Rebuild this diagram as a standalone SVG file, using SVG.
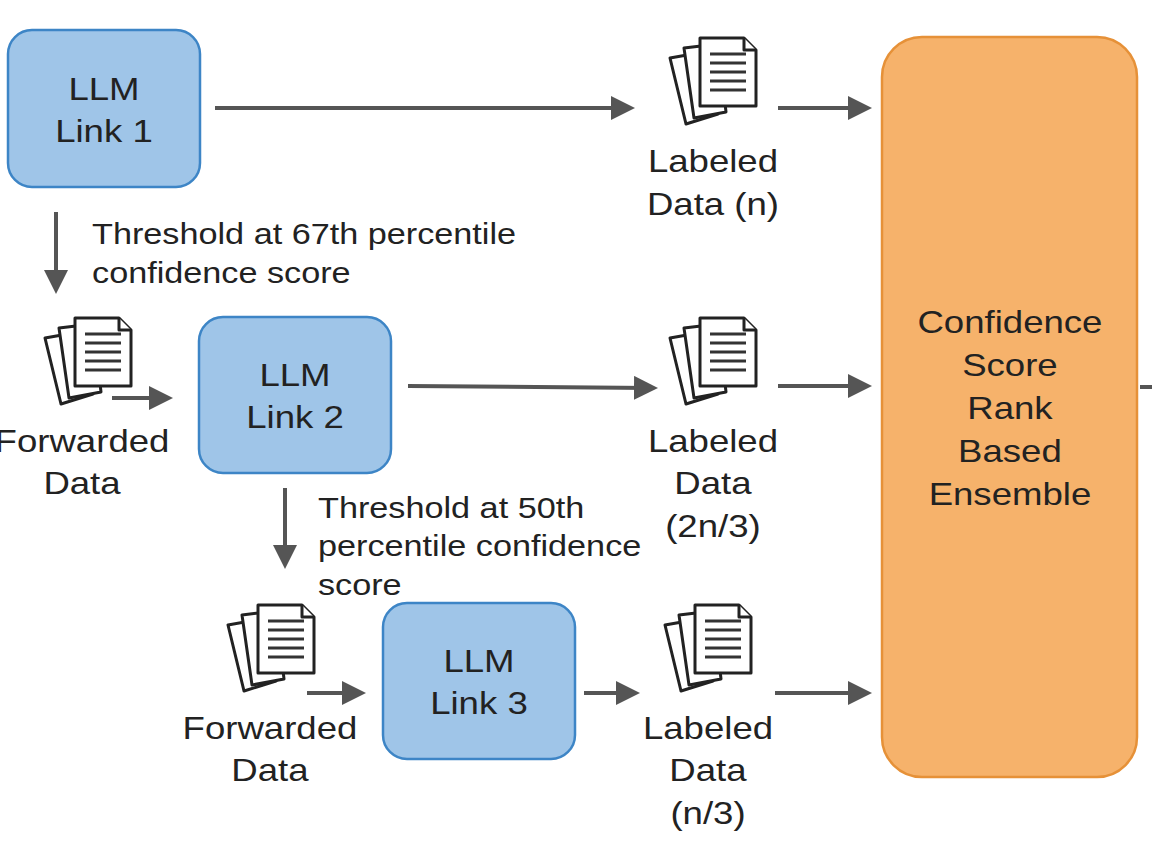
<svg xmlns="http://www.w3.org/2000/svg" width="1152" height="864" viewBox="0 0 1152 864">
<defs>
<style>
.llm{fill:#9fc5e8;stroke:#3d85c6;stroke-width:2.5}
.t{font-family:"Liberation Sans",Arial,sans-serif;font-size:31px;fill:#222;text-anchor:middle}
.s{font-family:"Liberation Sans",Arial,sans-serif;font-size:29px;fill:#222}
.c line{stroke:#555;stroke-width:4}
.p{fill:#fff;stroke:#222;stroke-width:3;stroke-linejoin:round}
.r{stroke:#333;stroke-width:3}
</style>
<marker id="a" markerWidth="6" markerHeight="6" refX="4" refY="3" orient="auto" markerUnits="strokeWidth">
<path d="M0,0L6,3L0,6z" fill="#555"/>
</marker>
<symbol id="doc" overflow="visible">
<path class="p" d="M-30,20 L4,14 L18,76 L-14,86 Z"/>
<path class="p" d="M-16,10 L18,6 L26,74 L-6,80 Z"/>
<path class="p" d="M0,0 L44,0 L56,12 L56,68 L0,68 Z"/>
<path class="p" d="M44,0 L44,12 L56,12"/>
<g class="r"><line x1="10" y1="16" x2="46" y2="16"/><line x1="10" y1="25" x2="46" y2="25"/><line x1="10" y1="34" x2="46" y2="34"/><line x1="10" y1="43" x2="46" y2="43"/><line x1="10" y1="52" x2="46" y2="52"/></g>
</symbol>
</defs>
<rect width="1152" height="864" fill="#fff"/>
<g id="llm1"><rect class="llm" x="8" y="30" width="192" height="157" rx="24"/><g transform="scale(1.18,1)"><text class="t" x="88.1" y="100">LLM</text><text class="t" x="88.1" y="142">Link 1</text></g></g>
<g id="llm2"><rect class="llm" x="199" y="317" width="192" height="156" rx="24"/><g transform="scale(1.18,1)"><text class="t" x="250" y="386">LLM</text><text class="t" x="250" y="428">Link 2</text></g></g>
<g id="llm3"><rect class="llm" x="383" y="603" width="192" height="156" rx="24"/><g transform="scale(1.18,1)"><text class="t" x="405.9" y="672">LLM</text><text class="t" x="405.9" y="714">Link 3</text></g></g>
<g id="ensemble"><rect x="882" y="37" width="255" height="740" rx="40" fill="#f6b26b" stroke="#e69138" stroke-width="2.5"/>
<g transform="scale(1.18,1)"><text class="t" x="855.9" y="333">Confidence</text><text class="t" x="855.9" y="376">Score</text><text class="t" x="855.9" y="419">Rank</text><text class="t" x="855.9" y="462">Based</text><text class="t" x="855.9" y="505">Ensemble</text></g></g>
<g id="lab1"><use href="#doc" x="700" y="38"/><g transform="scale(1.18,1)"><text class="t" x="604.2" y="172">Labeled</text><text class="t" x="604.2" y="215">Data (n)</text></g></g>
<g id="lab2"><use href="#doc" x="700" y="318"/><g transform="scale(1.18,1)"><text class="t" x="604.2" y="452">Labeled</text><text class="t" x="604.2" y="494">Data</text><text class="t" x="604.2" y="537">(2n/3)</text></g></g>
<g id="lab3"><use href="#doc" x="695" y="605"/><g transform="scale(1.18,1)"><text class="t" x="600" y="739">Labeled</text><text class="t" x="600" y="781">Data</text><text class="t" x="600" y="824">(n/3)</text></g></g>
<g id="fwd1"><use href="#doc" x="75" y="318"/><g transform="scale(1.18,1)"><text class="t" x="69.5" y="452">Forwarded</text><text class="t" x="69.5" y="494">Data</text></g></g>
<g id="fwd2"><use href="#doc" x="258" y="605"/><g transform="scale(1.18,1)"><text class="t" x="228.8" y="739">Forwarded</text><text class="t" x="228.8" y="781">Data</text></g></g>
<g id="labels" transform="scale(1.18,1)"><text class="s" x="78" y="244">Threshold at 67th percentile</text><text class="s" x="78" y="283">confidence score</text>
<text class="s" x="269.5" y="518">Threshold at 50th</text><text class="s" x="269.5" y="556">percentile confidence</text><text class="s" x="269.5" y="595">score</text></g>
<g id="connectors" class="c">
<line x1="215" y1="108" x2="627" y2="108" marker-end="url(#a)"/>
<line x1="778" y1="108" x2="864" y2="108" marker-end="url(#a)"/>
<line x1="56" y1="212" x2="56" y2="286" marker-end="url(#a)"/>
<line x1="112" y1="398" x2="165" y2="398" marker-end="url(#a)"/>
<line x1="408" y1="386" x2="650" y2="388" marker-end="url(#a)"/>
<line x1="778" y1="386" x2="864" y2="386" marker-end="url(#a)"/>
<line x1="285" y1="488" x2="285" y2="561" marker-end="url(#a)"/>
<line x1="307" y1="693" x2="358" y2="693" marker-end="url(#a)"/>
<line x1="584" y1="693" x2="632" y2="693" marker-end="url(#a)"/>
<line x1="775" y1="693" x2="864" y2="693" marker-end="url(#a)"/>
<line x1="1140" y1="387" x2="1152" y2="387"/>
</g>
</svg>
